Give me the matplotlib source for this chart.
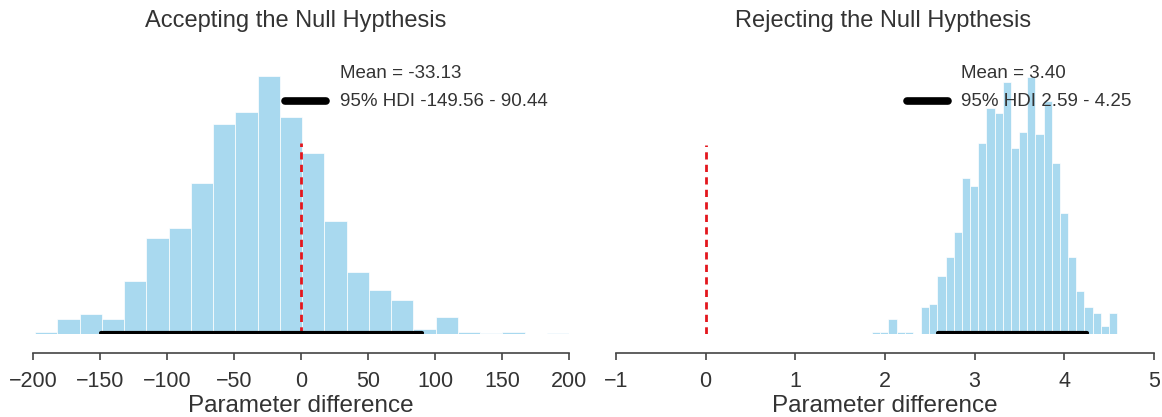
import numpy as np
import matplotlib
matplotlib.use("Agg")
import matplotlib.pyplot as plt

plt.rcParams['font.family'] = ['Liberation Sans', 'DejaVu Sans']

# ---- data ----
left_edges = list(np.round(np.linspace(-198.5, 200.0, 25), 3))
left_heights = [2.5, 14.7, 19.7, 14.7, 53, 96, 106, 151, 210, 222, 258, 217,
                181, 113, 62, 44, 34, 5, 17, 2, 1, 2, 0, 1]
left_mean = -33.13
left_hdi = [-149.56, 90.44]

right_edges = list(np.round(np.linspace(1.856, 4.589, 31), 4))
right_heights = [2.5, 2.5, 14.7, 2.5, 2.5, 0, 26.7, 30, 58, 76.7, 101.7, 155.7,
                 148.3, 191.3, 226.3, 220.7, 252.3, 186.3, 202.3, 257.3, 199.7,
                 233.3, 171.3, 120.7, 77.3, 43, 27.3, 20.7, 8.3, 20.7]
right_mean = 3.40
right_hdi = [2.59, 4.25]

titles = ["Accepting the Null Hypthesis", "Rejecting the Null Hypthesis"]
left_ticks = [-200, -150, -100, -50, 0, 50, 100, 150, 200]
right_ticks = [-1, 0, 1, 2, 3, 4, 5]
xlabel = "Parameter difference"

# ---- style ----
W, H = 1162, 417
BAR = "#A9D9EF"
TXT = "#333333"
RED = "#E3161D"

fig = plt.figure(figsize=(W / 100, H / 100), dpi=100)

def px_ax(x0, x1, ybot, ytop):
    return fig.add_axes([x0 / W, (H - ybot) / H, (x1 - x0) / W, (ybot - ytop) / H])

axL = px_ax(33, 569, 334, 30)
axR = px_ax(616, 1154, 334, 30)

def draw(ax, edges, heights, mean, hdi, ticks, xlim, leg_x, txt_x, dash_top):
    edges = np.asarray(edges)
    ax.bar(edges[:-1], heights, width=np.diff(edges), align='edge', color=BAR,
           edgecolor='white', linewidth=0.5, zorder=1)
    ax.plot([0, 0], [0, dash_top], color=RED, lw=2, dashes=[2.6, 1.9], zorder=3)
    ax.plot(hdi, [1.5, 1.5], color='black', lw=3, solid_capstyle='round', zorder=4)
    ax.plot(leg_x, [233, 233], color='black', lw=5.5, solid_capstyle='round', zorder=4)
    ax.text(txt_x, 261, f"Mean = {mean:.2f}", fontsize=13.5, color=TXT,
            va='center', ha='left', zorder=5)
    ax.text(txt_x, 233, f"95% HDI {hdi[0]:.2f} - {hdi[1]:.2f}", fontsize=13.5,
            color=TXT, va='center', ha='left', zorder=5)
    ax.set_xlim(*xlim)
    ax.set_ylim(0, 304)
    for s in ['top', 'right', 'left']:
        ax.spines[s].set_visible(False)
    ax.spines['bottom'].set_position(('outward', 14))
    ax.spines['bottom'].set_bounds(ticks[0], ticks[-1])
    ax.spines['bottom'].set_color('#444444')
    ax.spines['bottom'].set_linewidth(1.2)
    ax.set_yticks([])
    ax.set_xticks(ticks)
    ax.set_xticklabels([f"{t}".replace('-', '\u2212') for t in ticks])
    ax.tick_params(axis='x', length=5, width=1.2, color='#444444', labelsize=15.5,
                   labelcolor=TXT, pad=7.5)
    ax.set_xlabel(xlabel, fontsize=17.5, color=TXT, labelpad=2)

draw(axL, left_edges, left_heights, left_mean, left_hdi, left_ticks,
     (-200, 200), [-11.9, 18.7], 29.1, 191)
draw(axR, right_edges, right_heights, right_mean, right_hdi, right_ticks,
     (-1, 5), [2.244, 2.701], 2.846, 189)

fig.text(296 / W, 1 - 21 / H, titles[0], fontsize=17, color=TXT, ha='center', va='center')
fig.text(883 / W, 1 - 21 / H, titles[1], fontsize=17, color=TXT, ha='center', va='center')

fig.savefig("out.png", dpi=100)
